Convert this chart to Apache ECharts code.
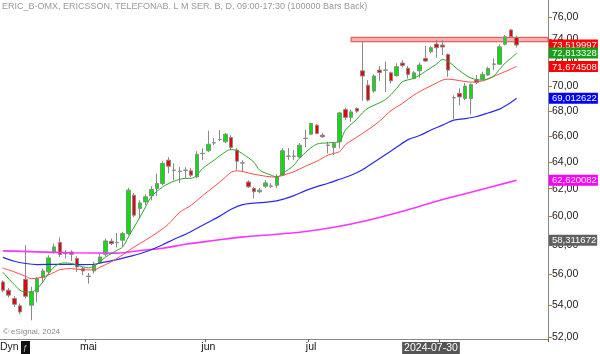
<!DOCTYPE html>
<html><head><meta charset="utf-8">
<script src="https://cdn.jsdelivr.net/npm/echarts@6/dist/echarts.min.js"></script>
<style>html,body{margin:0;padding:0;background:#fff}#c{width:600px;height:354px}</style>
</head><body><div id="c"></div>
<script>
const dates = ['2024-04-10','2024-04-11','2024-04-12','2024-04-15','2024-04-16','2024-04-17','2024-04-18','2024-04-19','2024-04-22','2024-04-23','2024-04-24','2024-04-25','2024-04-26','2024-04-29','2024-04-30',
'2024-05-02','2024-05-03','2024-05-06','2024-05-07','2024-05-08','2024-05-10','2024-05-13','2024-05-14','2024-05-15','2024-05-16','2024-05-17','2024-05-20','2024-05-21','2024-05-22','2024-05-23','2024-05-24','2024-05-27','2024-05-28','2024-05-29','2024-05-30','2024-05-31',
'2024-06-03','2024-06-04','2024-06-05','2024-06-07','2024-06-10','2024-06-11','2024-06-12','2024-06-13','2024-06-14','2024-06-17','2024-06-18','2024-06-19','2024-06-20','2024-06-24','2024-06-25','2024-06-26','2024-06-27','2024-06-28',
'2024-07-01','2024-07-02','2024-07-03','2024-07-04','2024-07-05','2024-07-08','2024-07-09','2024-07-10','2024-07-11','2024-07-12','2024-07-15','2024-07-16','2024-07-17','2024-07-18','2024-07-19','2024-07-22','2024-07-23','2024-07-24','2024-07-25','2024-07-26','2024-07-29','2024-07-30','2024-07-31',
'2024-08-01','2024-08-02','2024-08-05','2024-08-06','2024-08-07','2024-08-08','2024-08-09','2024-08-12','2024-08-13','2024-08-14','2024-08-15','2024-08-16','2024-08-19','2024-08-20',
'2024-08-21','2024-08-22','2024-08-23','2024-08-26','2024-08-27'];

const opens = [55.50,54.96,54.42,53.95,55.68,53.99,54.85,55.79,56.17,57.51,58.16,57.41,57.51,57.07,56.39,55.89,56.23,56.77,57.36,58.25,58.17,58.32,58.78,61.52,60.55,61.03,61.47,62.02,62.38,64.13,63.38,63.30,63.37,63.32,62.87,64.65,64.85,65.47,65.73,65.54,65.88,64.90,63.93,62.49,62.01,61.77,62.18,62.19,62.25,63.00,64.44,64.44,64.38,65.82,66.14,66.85,66.06,65.29,65.11,65.54,68.10,67.47,68.19,71.30,70.10,69.61,71.36,71.37,71.13,70.89,71.96,71.51,70.66,71.30,72.36,72.94,73.60,73.51,72.70,69.07,69.42,69.00,69.00,70.52,70.60,70.94,71.88,71.86,73.58,74.84,74.17];
const closes = [54.96,54.64,54.05,53.56,54.57,54.85,55.72,56.23,57.11,57.86,57.34,57.39,57.36,56.50,56.23,55.87,56.62,57.17,58.27,58.09,58.15,58.78,61.89,60.08,60.96,61.40,61.94,62.38,63.88,63.67,63.36,63.28,63.36,63.00,64.57,64.63,65.35,65.45,65.72,66.14,65.11,64.05,63.91,62.13,61.77,61.89,62.42,62.18,62.87,64.85,64.43,64.42,65.28,65.80,66.99,66.20,65.93,65.27,65.41,67.83,67.47,67.91,67.97,70.86,68.87,70.86,71.16,71.35,70.46,71.65,71.75,71.00,71.13,71.79,72.13,73.28,73.28,73.34,71.36,69.05,69.13,70.02,70.16,70.33,71.00,71.50,71.86,73.36,74.24,74.24,73.52];
const highs = [55.61,55.11,54.57,54.10,57.98,55.18,55.83,56.39,57.29,58.09,58.51,57.63,57.63,57.22,56.50,56.10,56.84,57.40,58.44,58.44,58.82,58.89,62.06,61.67,61.15,61.59,62.18,63.12,64.05,64.36,63.90,63.62,63.60,63.53,64.82,65.05,66.41,65.83,66.46,66.22,66.06,65.05,64.13,62.62,62.13,62.04,62.62,62.40,63.07,65.05,65.05,64.90,65.44,66.46,67.03,66.93,66.24,65.54,65.54,67.91,68.27,68.10,68.27,73.85,70.52,71.00,71.71,72.08,71.22,71.94,72.22,71.71,71.28,72.02,73.45,73.45,73.95,73.95,72.79,69.26,69.83,70.27,70.24,70.94,71.22,71.65,72.37,73.57,74.39,74.93,74.35];
const lows = [54.83,54.49,53.88,53.41,54.44,53.03,54.20,55.41,55.95,57.40,57.17,57.07,56.90,56.17,55.95,55.39,56.06,56.73,57.22,57.98,57.82,57.86,58.66,59.93,59.84,60.79,61.15,61.45,62.25,63.14,62.62,62.42,62.77,62.85,62.77,64.13,64.75,65.28,65.59,65.43,64.90,63.37,63.22,62.04,61.28,61.67,62.04,62.04,62.04,62.92,64.13,64.13,64.28,65.11,66.06,66.14,65.86,64.64,64.52,65.02,67.25,67.11,67.83,68.81,68.74,69.47,70.46,69.53,70.24,70.81,71.59,70.66,70.60,70.72,72.08,72.80,72.42,72.65,70.80,67.35,68.43,68.87,67.70,70.19,70.52,70.89,71.36,71.80,73.49,74.16,73.30];

// moving averages: [bar index, value]
const greenMA = [[0,56.14],[3,54.96],[4,54.85],[5,54.85],[6,55.07],[7,55.50],[8,56.06],[9,56.50],[10,56.73],[11,56.77],[12,56.73],[13,56.62],[14,56.50],[15,56.44],[16,56.55],[17,56.84],[18,57.17],[19,57.40],[20,57.63],[21,57.86],[22,58.55],[24,59.93],[25,60.67],[26,61.40],[28,62.13],[30,62.55],[32,62.76],[33,62.76],[34,63.00],[35,63.50],[37,64.13],[39,64.77],[40,64.95],[41,64.86],[42,64.62],[44,63.97],[45,63.37],[47,63.00],[48,62.87],[49,63.12],[51,63.75],[52,64.30],[55,65.36],[57,65.46],[59,65.58],[60,66.46],[62,67.32],[63,67.84],[64,68.22],[67,68.90],[69,69.83],[70,70.39],[72,70.67],[74,71.24],[76,71.88],[77,72.27],[78,72.10],[80,71.31],[82,70.69],[84,70.52],[86,70.86],[87,71.43],[88,71.96],[89,72.37],[90,72.81]];
const redMA = [[0,56.42],[2,56.17],[4,55.87],[5,55.72],[7,55.83],[9,56.14],[10,56.32],[12,56.39],[14,56.31],[16,56.31],[17,56.48],[19,56.84],[21,57.32],[23,57.86],[25,58.32],[27,58.84],[29,59.44],[31,60.29],[33,60.79],[35,61.49],[37,62.15],[39,62.85],[40,63.22],[41,63.32],[42,63.27],[44,63.07],[46,62.92],[48,62.85],[49,62.99],[51,63.26],[53,63.67],[55,64.05],[57,64.52],[59,64.79],[60,65.32],[62,65.90],[64,66.50],[66,67.17],[68,68.01],[70,68.60],[72,69.28],[74,69.81],[76,70.28],[77,70.52],[78,70.60],[80,70.48],[82,70.35],[84,70.45],[86,70.82],[87,71.03],[88,71.24],[89,71.45],[90,71.67]];
const blueMA = [[0,57.14],[2,56.88],[4,56.73],[6,56.66],[10,56.67],[14,56.66],[16,56.68],[18,56.84],[20,56.99],[22,57.19],[24,57.39],[26,57.66],[28,58.01],[30,58.39],[32,58.73],[34,59.15],[36,59.58],[38,60.01],[40,60.50],[42,60.83],[44,60.94],[47,61.05],[49,61.22],[51,61.49],[53,61.85],[55,62.15],[57,62.40],[59,62.69],[61,62.99],[63,63.40],[65,63.97],[67,64.55],[69,65.13],[71,65.71],[73,66.03],[75,66.46],[77,66.85],[79,67.25],[81,67.37],[83,67.54],[85,67.82],[87,68.13],[89,68.67],[90,69.01]];
const magentaMA = [[0,57.59],[6,57.52],[12,57.46],[20,57.43],[24,57.61],[28,57.77],[32,58.04],[37,58.30],[42,58.55],[47,58.70],[49,58.77],[52,58.87],[58,59.22],[64,59.72],[70,60.36],[76,61.08],[82,61.74],[86,62.18],[90,62.62]];

const yTicks = [52,54,56,58,60,62,64,66,68,70,72,74,76];
const tagValues = [73.519997,72.813328,71.674508,69.012622,62.620082,58.311672];
const tagColors = ['#ff0000','#16a016','#ff0000','#0000ff','#ff00ff','#606060'];
const tagGroup = [0,1,0,0,0,0];
const bandLow = 73.80, bandHigh = 74.19, bandStart = 61;
const xLabelIdx = [15,36,54];
const xLabelText = ['mai','jun','jul'];
const xTickIdx = [15,36,54,77];
const cursorIdx = 75;

const L = Math.log;
const yMin = L(51.87), yMax = L(77.55);
const candleData = dates.map((d,i)=> i<opens.length ? [L(opens[i]),L(closes[i]),L(lows[i]),L(highs[i])] : '-');
const toLn = a => a.map(([i,v])=>[i,L(v)]);
const fmt2 = v => Math.exp(v).toFixed(2).replace('.',',');

const rich = {};
tagValues.forEach((v,i)=>{ rich['t'+i] = {backgroundColor: tagColors[i], color:'#fff', fontSize:9.5, fontFamily:'Liberation Sans', padding:[1,1,0,3], lineHeight:9}; });
const tagFormatter = (v)=>{ let k=0,b=1e9; tagValues.forEach((t,i)=>{const d=Math.abs(L(t)-v); if(d<b){b=d;k=i;}}); return '{t'+k+'|'+tagValues[k].toFixed(6).replace('.',',')+'}'; };
const tagAxis = g => ({type:'value',position:'right',min:yMin,max:yMax,scale:true,
  axisLine:{show:false},axisTick:{show:false},splitLine:{show:false},
  axisLabel:{customValues:tagValues.filter((t,i)=>tagGroup[i]===g).map(L),hideOverlap:false,showMinLabel:true,showMaxLabel:true,margin:1,formatter:tagFormatter,rich:rich}});

const chart = echarts.init(document.getElementById('c'), null, {renderer:'canvas'});
chart.setOption({
  backgroundColor:'#fff',
  animation:false,
  grid:{left:0,right:52,top:0,bottom:15,containLabel:false,outerBoundsMode:'none'},
  xAxis:{type:'category',data:dates,boundaryGap:true,
    axisLine:{lineStyle:{color:'#888',width:1}},
    axisTick:{show:true,length:3,lineStyle:{color:'#666'},interval:(i)=>xTickIdx.includes(i)},
    axisLabel:{interval:(i)=>xLabelIdx.includes(i)||i===cursorIdx, hideOverlap:false, margin:3, fontSize:10.5, fontFamily:'Liberation Sans', color:'#111',
      formatter:(v,i)=>{ if(i===cursorIdx) return '{hl|'+v+'}'; const k=xLabelIdx.indexOf(i); return k>=0?xLabelText[k]:''; },
      rich:{hl:{backgroundColor:'#555',color:'#fff',fontSize:10.5,fontFamily:'Liberation Sans',padding:[1,2,0,2]}}},
    splitLine:{show:false}},
  yAxis:[
    {type:'value',position:'right',min:yMin,max:yMax,scale:true,
     axisLine:{show:true,lineStyle:{color:'#888'}},
     axisTick:{show:true,length:4,lineStyle:{color:'#b8752e'},customValues:yTicks.map(L)},
     axisLabel:{customValues:yTicks.map(L),formatter:fmt2,hideOverlap:false,showMinLabel:true,showMaxLabel:true,margin:4,fontSize:10.5,fontFamily:'Liberation Sans',color:'#222'},
     splitLine:{show:false}},
    tagAxis(0),
    tagAxis(1)
  ],
  series:[
    {type:'candlestick',data:candleData,barWidth:4,
     itemStyle:{color:'#00e600',color0:'#ee0000',borderColor:'#8a8a8a',borderColor0:'#8a8a8a',borderWidth:1},
     markArea:{silent:true,itemStyle:{color:'rgba(245,150,150,0.75)',borderColor:'#e04848',borderWidth:1},
       data:[[{xAxis:dates[bandStart],yAxis:L(bandHigh)},{yAxis:L(bandLow)}]]}},
    {type:'line',data:toLn(magentaMA),symbol:'none',smooth:0.3,lineStyle:{color:'#ff33ff',width:1.6}},
    {type:'line',data:toLn(blueMA),symbol:'none',smooth:0.3,lineStyle:{color:'#2a2aee',width:1.2}},
    {type:'line',data:toLn(redMA),symbol:'none',smooth:0.3,lineStyle:{color:'#ff4a4a',width:1}},
    {type:'line',data:toLn(greenMA),symbol:'none',smooth:0.3,lineStyle:{color:'#2aa82a',width:1}}
  ],
  graphic:[
    {type:'text',left:2,top:2,style:{text:'ERIC_B-OMX, ERICSSON, TELEFONAB. L M SER. B, D, 09:00-17:30 (100000 Bars Back)',fill:'#9a9a9a',font:'9px "Liberation Sans"'}},
    {type:'text',left:3,top:328,style:{text:'© eSignal, 2024',fill:'#888',font:'8px "Liberation Sans"'}},
    {type:'text',left:0,top:342,style:{text:'Dyn',fill:'#222',font:'10.5px "Liberation Sans"'}},
    {type:'rect',left:21,top:341,shape:{width:9,height:13},style:{fill:'#111'}},
    {type:'text',left:23,top:344,style:{text:'ƒ',fill:'#ccc',font:'8px "Liberation Sans"'}}
  ]
});
</script></body></html>
